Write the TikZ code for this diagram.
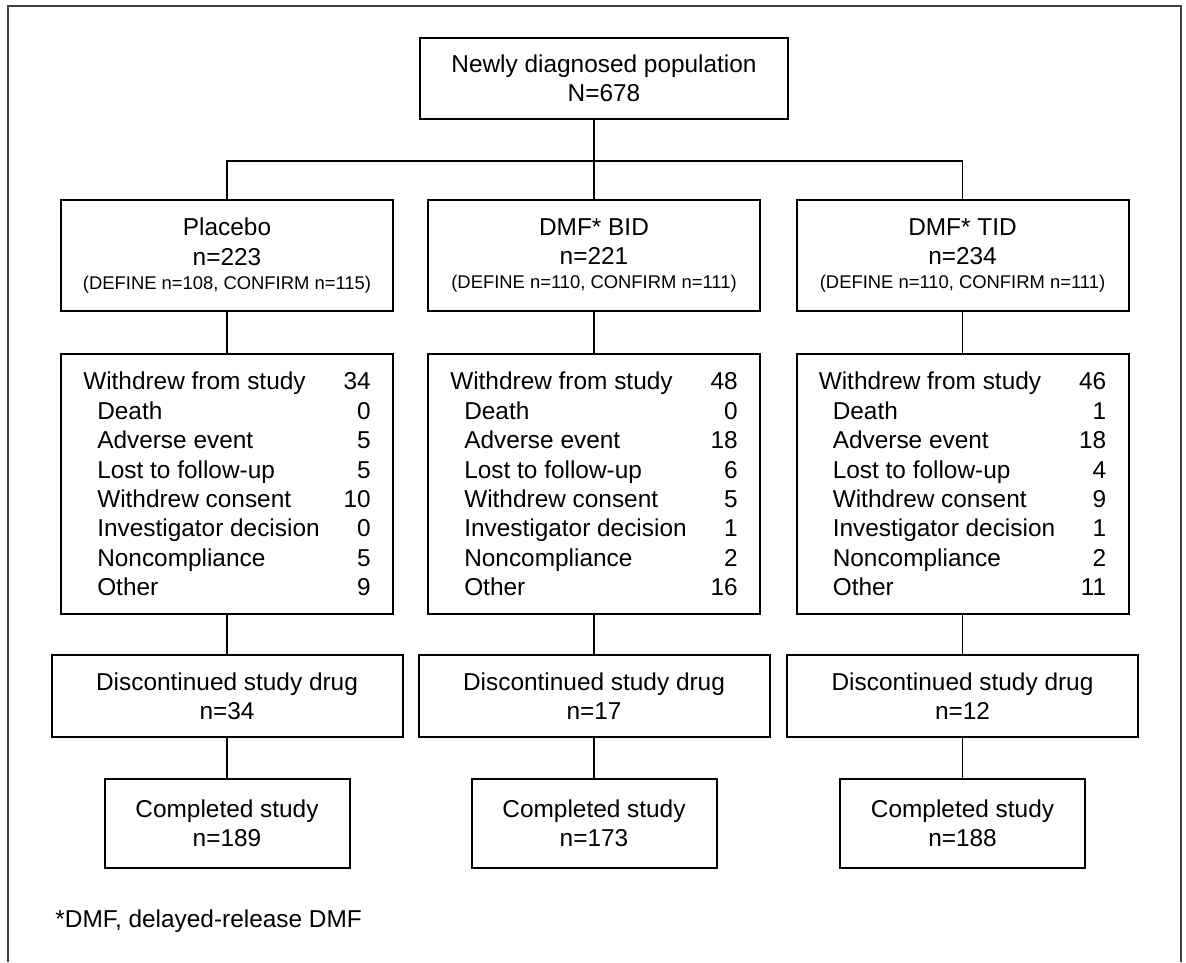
\documentclass[tikz,border=0pt]{standalone}
\usepackage{fontspec}
\setmainfont{Liberation Sans}
\newcommand{\wrow}[2]{\makebox[143.75pt]{\hspace{7pt}#1\hfill#2}}
\newcommand{\whead}[1]{\makebox[143.75pt]{Withdrew from study\hfill#1}}
\newcommand{\smalltxt}[1]{{\fontsize{9.2}{11}\selectfont #1}}
\begin{document}
\begin{tikzpicture}[x=0.5pt,y=-0.5pt,
  box/.style={draw, line width=1pt, inner sep=0pt, align=center,
    font=\fontsize{12.2}{14.6}\selectfont},
  topbox/.style={box, minimum width=184pt, minimum height=40.5pt},
  armbox/.style={box, minimum width=166pt, minimum height=55.5pt},
  wbox/.style={box, minimum width=166pt, minimum height=130pt, align=left,
    font=\fontsize{12.2}{14.7}\selectfont},
  dbox/.style={box, minimum width=175.5pt, minimum height=41pt},
  cbox/.style={box, minimum width=122.5pt, minimum height=44.5pt},
  conn/.style={line width=0.9pt},
  frame/.style={line width=1.1pt, draw=black!75}]
\useasboundingbox (0,0) rectangle (1186,962);
\draw[frame] (8,962) -- (8,6) -- (1181,6) -- (1181,962);

\node[topbox] (top) at (604,78.5) {Newly diagnosed population\\N=678};

\node[armbox] (pla) at (227,255.5) {Placebo\\n=223\\[-2.6pt]\smalltxt{(DEFINE n=108, CONFIRM n=115)}};
\node[armbox] (bid) at (594,255.5) {DMF* BID\\n=221\\[-2.6pt]\smalltxt{(DEFINE n=110, CONFIRM n=111)}};
\node[armbox] (tid) at (962.5,255.5) {DMF* TID\\n=234\\[-2.6pt]\smalltxt{(DEFINE n=110, CONFIRM n=111)}};

\node[wbox] (wpla) at (227,484) {\whead{34}\\\wrow{Death}{0}\\\wrow{Adverse event}{5}\\\wrow{Lost to follow-up}{5}\\\wrow{Withdrew consent}{10}\\\wrow{Investigator decision}{0}\\\wrow{Noncompliance}{5}\\\wrow{Other}{9}};
\node[wbox] (wbid) at (594,484) {\whead{48}\\\wrow{Death}{0}\\\wrow{Adverse event}{18}\\\wrow{Lost to follow-up}{6}\\\wrow{Withdrew consent}{5}\\\wrow{Investigator decision}{1}\\\wrow{Noncompliance}{2}\\\wrow{Other}{16}};
\node[wbox] (wtid) at (962.5,484) {\whead{46}\\\wrow{Death}{1}\\\wrow{Adverse event}{18}\\\wrow{Lost to follow-up}{4}\\\wrow{Withdrew consent}{9}\\\wrow{Investigator decision}{1}\\\wrow{Noncompliance}{2}\\\wrow{Other}{11}};

\node[dbox] (dpla) at (227,696) {Discontinued study drug\\n=34};
\node[dbox] (dbid) at (594,696) {Discontinued study drug\\n=17};
\node[dbox] (dtid) at (962.5,696) {Discontinued study drug\\n=12};

\node[cbox] (cpla) at (227,823.5) {Completed study\\n=189};
\node[cbox] (cbid) at (594,823.5) {Completed study\\n=173};
\node[cbox] (ctid) at (962.5,823.5) {Completed study\\n=188};

\node[anchor=base west, inner sep=0pt, font=\fontsize{12.2}{14.6}\selectfont] (foot) at (55,927) {*DMF, delayed-release DMF};

\coordinate (junc) at (594,161);
\draw[conn] (top.south -| bid.north) -- (bid.north);
\draw[conn] (pla.north) -- (pla.north |- junc) -- (tid.north |- junc) -- (tid.north);

\foreach \c in {pla,bid,tid}{
  \draw[conn] (\c.south) -- (w\c.north);
  \draw[conn] (w\c.south) -- (d\c.north);
  \draw[conn] (d\c.south) -- (c\c.north);
}
\end{tikzpicture}
\end{document}
